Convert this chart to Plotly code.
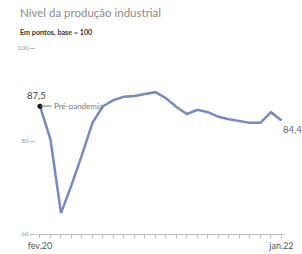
import plotly.graph_objects as go

months = ["fev.20", "mar.20", "abr.20", "mai.20", "jun.20", "jul.20", "ago.20", "set.20",
          "out.20", "nov.20", "dez.20", "jan.21", "fev.21", "mar.21", "abr.21", "mai.21",
          "jun.21", "jul.21", "ago.21", "set.21", "out.21", "nov.21", "dez.21", "jan.22"]
values = [87.5, 80.3, 64.5, 70.5, 77.0, 83.9, 87.5, 88.8, 89.5, 89.7, 90.1, 90.5,
          89.2, 87.3, 85.8, 86.7, 86.2, 85.2, 84.7, 84.3, 83.9, 83.9, 86.2, 84.4]
y_ticks = [60, 80, 100]

x = list(range(len(months)))

L, R, T, B = 36, 18, 48, 20
PW, PH = 302 - L - R, 254 - T - B

fig = go.Figure()
fig.add_trace(go.Scatter(x=x, y=values, mode="lines",
                         line=dict(color="#7889bd", width=2.5), hoverinfo="skip"))
fig.add_trace(go.Scatter(x=[x[0]], y=[values[0]], mode="markers",
                         marker=dict(color="#111", size=5), hoverinfo="skip"))

fig.add_annotation(x=x[0], y=values[0], text="87,5", showarrow=False,
                   xanchor="center", yanchor="bottom", yshift=3, xshift=-3,
                   font=dict(size=9.5, color="#3a3a3a", family="Lato"))
fig.add_annotation(x=x[0], y=values[0], text="Pré-pandemia", showarrow=False,
                   xanchor="left", yanchor="middle", xshift=12,
                   font=dict(size=8, color="#777", family="Lato"))
fig.add_shape(type="line", xref="x", yref="y", x0=x[0], x1=x[0] + 1.1,
              y0=values[0], y1=values[0], line=dict(color="#777", width=1))
fig.add_annotation(x=x[-1], y=values[-1], text="84,4", showarrow=False,
                   xanchor="left", yanchor="top", xshift=0, yshift=-1,
                   font=dict(size=9.5, color="#666", family="Lato"))

fig.add_annotation(xref="paper", yref="paper", x=-(L - 18) / PW, y=1 + (T - 13) / PH,
                   text="Nível da produção industrial",
                   showarrow=False, xanchor="left", yanchor="middle",
                   font=dict(size=11.5, color="#8a8a8a", family="Lato"))
fig.add_annotation(xref="paper", yref="paper", x=-(L - 18) / PW, y=1 + (T - 32) / PH,
                   text="<b>Em pontos, base = 100</b>",
                   showarrow=False, xanchor="left", yanchor="middle",
                   font=dict(size=7.2, color="#333", family="Lato"))

fig.update_layout(
    width=302, height=254,
    margin=dict(l=L, r=R, t=T, b=B, autoexpand=False),
    paper_bgcolor="white", plot_bgcolor="white",
    showlegend=False,
    xaxis=dict(range=[-0.38, 23.24], showgrid=False, zeroline=False, automargin=False,
               showline=True, linecolor="#bbb", linewidth=1,
               tickvals=[x[0], x[-1]], ticktext=[months[0], months[-1]],
               ticks="outside", ticklen=3, tickcolor="#bbb",
               minor=dict(dtick=1, tick0=0, ticks="outside", ticklen=3, tickcolor="#bbb"),
               tickfont=dict(size=9, color="#555", family="Lato")),
    yaxis=dict(range=[60, 100], showgrid=False, zeroline=False, showline=False, automargin=False,
               tickvals=y_ticks, ticks="outside", ticklen=5, tickcolor="#bbb",
               tickfont=dict(size=6.5, color="#999", family="Lato")),
)

fig.write_html("out.html", config={"displayModeBar": False},
               post_script="document.body.style.margin='0';document.body.style.overflow='hidden';")
